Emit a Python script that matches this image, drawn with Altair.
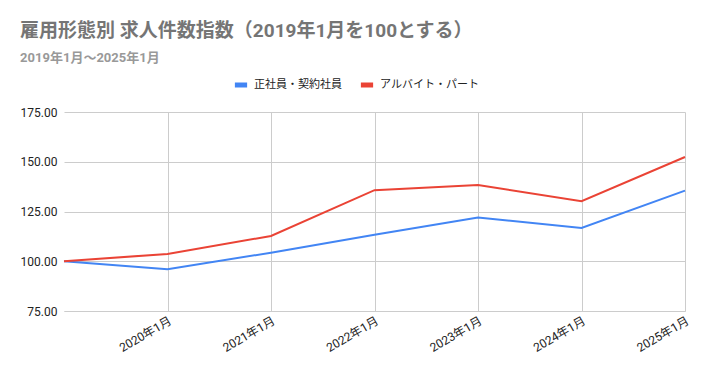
import altair as alt
import pandas as pd

periods = ["2019年1月", "2020年1月", "2021年1月", "2022年1月", "2023年1月", "2024年1月", "2025年1月"]
regular = [100.0, 96.0, 104.3, 113.3, 122.0, 116.7, 135.5]
parttime = [100.0, 103.7, 112.7, 135.7, 138.3, 130.2, 152.4]
series_names = ["正社員・契約社員", "アルバイト・パート"]
colors = ["#4285F4", "#EA4335"]

rows = []
for p, v in zip(periods, regular):
    rows.append({"period": p, "series": series_names[0], "value": v})
for p, v in zip(periods, parttime):
    rows.append({"period": p, "series": series_names[1], "value": v})
df = pd.DataFrame(rows)

FONT = "Roboto, 'Noto Sans CJK JP', sans-serif"

chart = alt.Chart(df).mark_line(strokeWidth=2).encode(
    x=alt.X("period:N", sort=periods, title=None,
            scale=alt.Scale(type="point", padding=0),
            axis=alt.Axis(values=periods[1:], labelAngle=-30, labelAlign="right",
                          labelBaseline="top", labelPadding=4, ticks=False,
                          grid=True, gridColor="#cccccc", domainColor="#cccccc",
                          labelColor="#222222", labelFontSize=12, labelFont=FONT)),
    y=alt.Y("value:Q", title=None,
            scale=alt.Scale(domain=[75, 175], nice=False, zero=False),
            axis=alt.Axis(values=[75, 100, 125, 150, 175], format=".2f", ticks=False,
                          domain=False, gridColor="#cccccc", labelPadding=7,
                          labelColor="#222222", labelFontSize=12, labelFont=FONT,
                          minExtent=43, maxExtent=43)),
    color=alt.Color("series:N", sort=series_names,
                    scale=alt.Scale(domain=series_names, range=colors),
                    legend=alt.Legend(title=None, orient="none", direction="horizontal",
                                      legendX=168, legendY=-36, symbolType="stroke",
                                      symbolStrokeWidth=5, symbolSize=150,
                                      labelFontSize=11, labelFont=FONT, labelColor="#222222",
                                      columnPadding=8)),
).properties(
    width=621, height=199,
    padding={"left": 12, "top": 14, "right": 0, "bottom": 5},
    title=alt.TitleParams(
        text="雇用形態別 求人件数指数（2019年1月を100とする）",
        subtitle="2019年1月～2025年1月",
        anchor="start", frame="bounds", font=FONT, fontSize=19, fontWeight="bold",
        color="#757575", subtitleFont=FONT, subtitleFontSize=13, subtitleFontWeight="bold",
        subtitleColor="#999999", subtitlePadding=11, offset=11),
).configure_view(stroke=None)

chart.save("out.html", embed_options={"renderer": "svg", "actions": False})
